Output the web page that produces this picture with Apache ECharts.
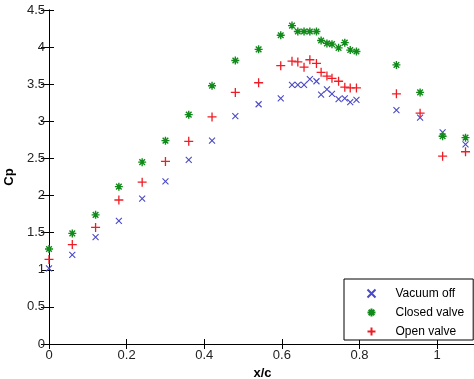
<!DOCTYPE html>
<html>
<head>
<meta charset="utf-8">
<script src="https://cdn.jsdelivr.net/npm/echarts@6/dist/echarts.min.js"></script>
<style>
html,body{margin:0;padding:0;background:#fff;}
#chart{width:474px;height:379px;}
</style>
</head>
<body>
<div id="chart"></div>
<script>
// x/c stations
var xc = [0, 0.06, 0.12, 0.18, 0.24, 0.30, 0.36, 0.42, 0.48, 0.54, 0.597, 0.626, 0.641, 0.657, 0.672, 0.689, 0.701, 0.716, 0.729, 0.746, 0.762, 0.776, 0.792, 0.895, 0.956, 1.014, 1.073];
var vacuumOff = [1.02, 1.20, 1.44, 1.66, 1.96, 2.19, 2.48, 2.74, 3.07, 3.23, 3.31, 3.49, 3.49, 3.49, 3.57, 3.54, 3.36, 3.43, 3.37, 3.30, 3.31, 3.26, 3.29, 3.15, 3.05, 2.85, 2.69];
var closedValve = [1.28, 1.49, 1.74, 2.12, 2.45, 2.74, 3.09, 3.48, 3.82, 3.97, 4.16, 4.29, 4.21, 4.21, 4.21, 4.21, 4.09, 4.05, 4.04, 3.99, 4.06, 3.96, 3.94, 3.76, 3.39, 2.80, 2.78];
var openValve = [1.14, 1.34, 1.57, 1.94, 2.18, 2.46, 2.73, 3.06, 3.39, 3.52, 3.75, 3.81, 3.80, 3.73, 3.83, 3.78, 3.66, 3.61, 3.58, 3.54, 3.46, 3.45, 3.45, 3.37, 3.11, 2.53, 2.59];
var seriesNames = ['Vacuum off', 'Closed valve', 'Open valve'];
var xTickLabels = ['0', '0.2', '0.4', '0.6', '0.8', '1'];
var yTickLabels = ['0', '0.5', '1', '1.5', '2', '2.5', '3', '3.5', '4', '4.5'];

function pairs(xs, ys) { return xs.map(function (x, i) { return [x, ys[i]]; }); }

var FONT = 'Liberation Sans, Arial, sans-serif';
var xPath = 'path://M0 0 L10 10 M10 0 L0 10';
var plusPath = 'path://M5 0 L5 10 M0 5 L10 5';
var starPath = 'path://M5 0 L5 10 M0 5 L10 5 M1.5 1.5 L8.5 8.5 M8.5 1.5 L1.5 8.5';

function fmtX(v) { var s = +v.toFixed(2); return xTickLabels.indexOf(String(s)) >= 0 ? String(s) : ''; }
function fmtY(v) { var s = +v.toFixed(2); return yTickLabels.indexOf(String(s)) >= 0 ? String(s) : ''; }

var axisLineStyle = { color: '#000', width: 1 };
var chart = echarts.init(document.getElementById('chart'), null, { renderer: 'canvas' });
chart.setOption({
  animation: false,
  backgroundColor: '#fff',
  grid: { left: 49, right: -2, top: 10, bottom: 35, containLabel: false, outerBoundsMode: 'none' },
  legend: {
    orient: 'vertical',
    left: 344, top: 279,
    padding: [8, 9, 2, 21],
    itemWidth: 38, itemHeight: 8, itemGap: 6,
    backgroundColor: '#fff',
    borderColor: '#000', borderWidth: 1,
    textStyle: { fontFamily: FONT, fontSize: 12, color: '#000' },
    data: seriesNames
  },
  xAxis: [{
    type: 'value', min: 0, max: 1.1, interval: 0.2,
    name: 'x/c', nameLocation: 'middle', nameGap: 20,
    nameTextStyle: { fontFamily: FONT, fontSize: 13, fontWeight: 'bold', color: '#000' },
    axisLine: { show: true, lineStyle: axisLineStyle },
    axisTick: { show: true, inside: true, length: 5, lineStyle: axisLineStyle },
    axisLabel: { fontFamily: FONT, fontSize: 13, color: '#222', margin: 5, formatter: fmtX, showMaxLabel: false },
    splitLine: { show: false }
  }, {
    type: 'value', min: 0, max: 1.1, interval: 0.2, position: 'top',
    axisLine: { show: true, lineStyle: axisLineStyle },
    axisTick: { show: true, inside: true, length: 5, lineStyle: axisLineStyle },
    axisLabel: { show: false }, splitLine: { show: false }
  }],
  yAxis: [{
    type: 'value', min: 0, max: 4.5, interval: 0.5,
    name: 'Cp', nameLocation: 'middle', nameGap: 28,
    nameTextStyle: { fontFamily: FONT, fontSize: 13, fontWeight: 'bold', color: '#000' },
    axisLine: { show: true, lineStyle: axisLineStyle },
    axisTick: { show: true, inside: true, length: 5, lineStyle: axisLineStyle },
    axisLabel: { fontFamily: FONT, fontSize: 13, color: '#222', margin: 4, formatter: fmtY },
    splitLine: { show: false }
  }, {
    type: 'value', min: 0, max: 4.5, interval: 0.5, position: 'right',
    axisLine: { show: true, lineStyle: axisLineStyle },
    axisTick: { show: true, inside: true, length: 8, lineStyle: axisLineStyle },
    axisLabel: { show: false }, splitLine: { show: false }
  }],
  series: [{
    name: seriesNames[0], type: 'scatter', symbol: xPath, symbolSize: 6,
    itemStyle: { color: 'none', borderColor: '#4a4ac8', borderWidth: 1.1, opacity: 1 },
    data: pairs(xc, vacuumOff), z: 3
  }, {
    name: seriesNames[1], type: 'scatter', symbol: starPath, symbolSize: 8,
    itemStyle: { color: 'none', borderColor: '#108a18', borderWidth: 1.4, opacity: 1 },
    data: pairs(xc, closedValve), z: 4
  }, {
    name: seriesNames[2], type: 'scatter', symbol: plusPath, symbolSize: 9,
    itemStyle: { color: 'none', borderColor: '#ee1c24', borderWidth: 1.3, opacity: 1 },
    data: pairs(xc, openValve), z: 5
  }]
});
</script>
</body>
</html>
